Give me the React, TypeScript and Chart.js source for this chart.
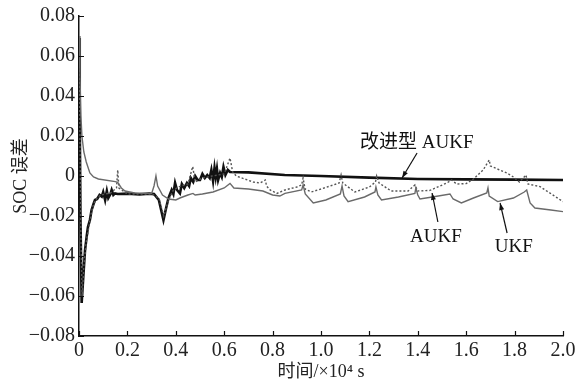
import React, { useEffect, useRef } from "react";
import { Chart, registerables } from "chart.js";

Chart.register(...registerables);

// ---- Data (time in 10^4 s, SOC error) ----
const improvedTime = [0, 0.003, 0.006, 0.011, 0.018, 0.025, 0.032, 0.037, 0.045, 0.052, 0.06, 0.066, 0.075, 0.085, 0.094, 0.1, 0.108, 0.115, 0.121, 0.13, 0.135, 0.142, 0.149, 0.16, 0.2, 0.25, 0.29, 0.31, 0.33, 0.349, 0.36, 0.37, 0.383, 0.39, 0.397, 0.405, 0.417, 0.425, 0.435, 0.446, 0.455, 0.462, 0.472, 0.48, 0.49, 0.5, 0.51, 0.52, 0.53, 0.54, 0.547, 0.554, 0.56, 0.565, 0.57, 0.575, 0.583, 0.59, 0.597, 0.605, 0.615, 0.624, 0.7, 0.85, 1.0, 1.2, 1.4, 1.6, 1.8, 2.0];
const improvedErr = [0.069, 0.03, -0.02, -0.0635, -0.05, -0.037, -0.03, -0.0255, -0.022, -0.017, -0.014, -0.012, -0.0115, -0.0095, -0.0103, -0.008, -0.012, -0.0075, -0.011, -0.009, -0.007, -0.0095, -0.0087, -0.009, -0.0088, -0.0092, -0.0088, -0.009, -0.012, -0.022, -0.016, -0.011, -0.007, -0.009, -0.0035, -0.007, -0.0087, -0.004, -0.006, -0.0035, -0.005, -0.001, -0.003, 0.0, -0.002, -0.002, 0.001, -0.001, 0.0005, -0.001, 0.003, -0.0025, 0.004, -0.0005, 0.0035, -0.002, 0.0015, -0.0005, 0.0045, 0.0005, 0.003, 0.002, 0.0018, 0.0005, 0.0, -0.0008, -0.0015, -0.0017, -0.0018, -0.002];

const aukfTime = [0, 0.004, 0.008, 0.013, 0.02, 0.03, 0.04, 0.05, 0.06, 0.075, 0.09, 0.11, 0.13, 0.155, 0.16, 0.165, 0.2, 0.25, 0.3, 0.33, 0.35, 0.37, 0.39, 0.42, 0.45, 0.47, 0.48, 0.51, 0.55, 0.6, 0.624, 0.635, 0.65, 0.72, 0.748, 0.77, 0.775, 0.79, 0.818, 0.851, 0.9, 0.92, 0.926, 0.934, 0.96, 1.0, 1.05, 1.075, 1.083, 1.09, 1.14, 1.2, 1.225, 1.23, 1.24, 1.29, 1.36, 1.388, 1.4, 1.45, 1.52, 1.54, 1.56, 1.6, 1.63, 1.67, 1.695, 1.7, 1.768, 1.795, 1.82, 1.847, 1.855, 1.905, 2.0];
const aukfErr = [0.069, 0.02, -0.03, -0.06, -0.045, -0.033, -0.026, -0.019, -0.014, -0.011, -0.0095, -0.009, -0.0085, -0.006, 0.003, -0.006, -0.009, -0.009, -0.009, -0.011, -0.02, -0.012, -0.007, -0.005, -0.004, 0.0047, -0.003, -0.001, 0.0, 0.001, 0.009, 0.002, 0.0, -0.003, -0.0035, -0.002, -0.005, -0.007, -0.0087, -0.007, -0.0055, -0.0045, -0.001, -0.0065, -0.008, -0.0065, -0.0045, -0.0035, 0.0005, -0.0035, -0.008, -0.0055, -0.003, 0.0, -0.0035, -0.0075, -0.0075, -0.0045, -0.0075, -0.0072, -0.0035, -0.002, -0.004, -0.0038, -0.0015, 0.003, 0.008, 0.005, 0.0015, -0.0005, -0.003, 0.0005, -0.004, -0.0053, -0.0128];

const ukfTime = [0, 0.004, 0.008, 0.012, 0.02, 0.03, 0.045, 0.06, 0.08, 0.15, 0.16, 0.175, 0.19, 0.23, 0.3, 0.31, 0.318, 0.325, 0.345, 0.37, 0.4, 0.417, 0.45, 0.471, 0.48, 0.51, 0.554, 0.6, 0.624, 0.64, 0.7, 0.76, 0.8, 0.83, 0.851, 0.92, 0.926, 0.935, 0.968, 1.02, 1.08, 1.087, 1.095, 1.112, 1.18, 1.223, 1.227, 1.235, 1.25, 1.32, 1.388, 1.392, 1.4, 1.409, 1.46, 1.533, 1.546, 1.58, 1.63, 1.685, 1.69, 1.695, 1.73, 1.795, 1.84, 1.85, 1.864, 1.884, 1.95, 2.0];
const ukfErr = [0.07, 0.05, 0.03, 0.02, 0.012, 0.007, 0.0015, -0.0005, -0.0015, -0.0028, -0.0032, -0.006, -0.0075, -0.0085, -0.0088, -0.005, 0.0, -0.005, -0.0095, -0.0115, -0.012, -0.011, -0.0095, -0.0087, -0.0095, -0.009, -0.008, -0.006, -0.0037, -0.006, -0.0065, -0.0075, -0.0095, -0.01, -0.0087, -0.007, -0.0045, -0.009, -0.0135, -0.012, -0.009, -0.005, -0.01, -0.0128, -0.0105, -0.008, -0.0055, -0.0095, -0.012, -0.0105, -0.0087, -0.006, -0.0095, -0.0115, -0.0105, -0.009, -0.0115, -0.0135, -0.011, -0.0085, -0.006, -0.01, -0.0128, -0.011, -0.008, -0.007, -0.0135, -0.016, -0.017, -0.0178];

const seriesNames = ["改进型 AUKF", "AUKF", "UKF"];

// callouts in data units: label, text anchor, arrow tail, arrow tip
const calloutLabels = ["改进型 AUKF", "AUKF", "UKF"];
const calloutText = [[1.161, 0.0165], [1.475, -0.0305], [1.797, -0.0355]];
const calloutTail = [[1.397, 0.0115], [1.483, -0.023], [1.769, -0.0285]];
const calloutTip = [[1.335, -0.001], [1.459, -0.0085], [1.74, -0.0135]];

const SERIF = '"Liberation Serif", "Noto Sans CJK SC", serif';

const toPts = (xs: number[], ys: number[]) => xs.map((x, i) => ({ x, y: ys[i] }));

const decoPlugin = {
  id: "deco",
  afterDatasetsDraw(chart: any) {
    const { ctx, scales, chartArea } = chart;
    const xs = scales.x;
    const ys = scales.y;
    ctx.save();
    // inward tick marks
    ctx.strokeStyle = "#111";
    ctx.lineWidth = 1.2;
    ctx.beginPath();
    xs.ticks.forEach((t: any) => {
      const px = Math.round(xs.getPixelForValue(t.value)) + 0.5;
      ctx.moveTo(px, chartArea.bottom);
      ctx.lineTo(px, chartArea.bottom - 5);
    });
    ys.ticks.forEach((t: any) => {
      const py = Math.round(ys.getPixelForValue(t.value)) + 0.5;
      ctx.moveTo(chartArea.left, py);
      ctx.lineTo(chartArea.left + 5, py);
    });
    ctx.stroke();

    // callouts
    ctx.fillStyle = "#111";
    ctx.strokeStyle = "#111";
    ctx.lineWidth = 1.2;
    ctx.font = `19px ${SERIF}`;
    ctx.textBaseline = "middle";
    calloutLabels.forEach((label, i) => {
      const tx = xs.getPixelForValue(calloutText[i][0]);
      const ty = ys.getPixelForValue(calloutText[i][1]);
      ctx.textAlign = i === 0 ? "left" : "center";
      ctx.fillText(label, tx, ty);
      const x1 = xs.getPixelForValue(calloutTail[i][0]);
      const y1 = ys.getPixelForValue(calloutTail[i][1]);
      const x2 = xs.getPixelForValue(calloutTip[i][0]);
      const y2 = ys.getPixelForValue(calloutTip[i][1]);
      ctx.beginPath();
      ctx.moveTo(x1, y1);
      ctx.lineTo(x2, y2);
      ctx.stroke();
      const ang = Math.atan2(y2 - y1, x2 - x1);
      const hl = 7;
      const hw = 2.5;
      ctx.beginPath();
      ctx.moveTo(x2, y2);
      ctx.lineTo(x2 - hl * Math.cos(ang) + hw * Math.sin(ang), y2 - hl * Math.sin(ang) - hw * Math.cos(ang));
      ctx.lineTo(x2 - hl * Math.cos(ang) - hw * Math.sin(ang), y2 - hl * Math.sin(ang) + hw * Math.cos(ang));
      ctx.closePath();
      ctx.fill();
    });
    ctx.restore();
  },
};

export default function App() {
  const ref = useRef<HTMLCanvasElement | null>(null);
  useEffect(() => {
    if (!ref.current) return;
    const chart = new Chart(ref.current, {
      type: "scatter",
      data: {
        datasets: [
          {
            label: seriesNames[2],
            data: toPts(ukfTime, ukfErr),
            showLine: true,
            borderColor: "#6a6a6a",
            borderWidth: 1.4,
            pointRadius: 0,
            tension: 0,
          },
          {
            label: seriesNames[1],
            data: toPts(aukfTime, aukfErr),
            showLine: true,
            borderColor: "#555",
            borderWidth: 1.4,
            borderDash: [2, 2],
            pointRadius: 0,
            tension: 0,
          },
          {
            label: seriesNames[0],
            data: toPts(improvedTime, improvedErr),
            showLine: true,
            borderColor: "#111",
            borderWidth: 2.6,
            pointRadius: 0,
            tension: 0,
          },
        ],
      },
      options: {
        animation: false,
        responsive: false,
        devicePixelRatio: 1,
        layout: { padding: { left: 0, top: 16, right: 16, bottom: 0 } },
        plugins: { legend: { display: false }, tooltip: { enabled: false } },
        scales: {
          x: {
            type: "linear",
            min: 0,
            max: 2,
            afterFit: (s: any) => {
              s.height = 44;
            },
            ticks: {
              stepSize: 0.2,
              padding: 3,
              color: "#222",
              font: { family: SERIF, size: 20 },
              callback: (v: any) => (Math.abs(v) < 1e-9 ? "0" : Number(v).toFixed(1)),
            },
            grid: { display: true, drawOnChartArea: false, drawTicks: false },
            border: { display: true, color: "#111", width: 1.5 },
            title: {
              display: true,
              text: "时间/×10⁴ s",
              color: "#222",
              font: { family: SERIF, size: 18 },
              padding: { top: 0, bottom: -3 },
            },
          },
          y: {
            type: "linear",
            min: -0.08,
            max: 0.08,
            afterFit: (s: any) => {
              s.width = 79;
            },
            ticks: {
              stepSize: 0.02,
              padding: 4,
              color: "#222",
              font: { family: SERIF, size: 20 },
              callback: (v: any) => (Math.abs(v) < 1e-9 ? "0" : Number(v).toFixed(2).replace("-", "−")),
            },
            grid: { display: true, drawOnChartArea: false, drawTicks: false },
            border: { display: true, color: "#111", width: 1.5 },
            title: {
              display: true,
              text: "SOC 误差",
              color: "#222",
              font: { family: SERIF, size: 18 },
              padding: { top: 10, bottom: 0 },
            },
          },
        },
      },
      plugins: [decoPlugin],
    });
    return () => chart.destroy();
  }, []);
  return (
    <div style={{ position: "absolute", left: 0, top: 0, width: 579, height: 380, background: "#fff" }}>
      <canvas ref={ref} width={579} height={380} style={{ display: "block" }} />
    </div>
  );
}
